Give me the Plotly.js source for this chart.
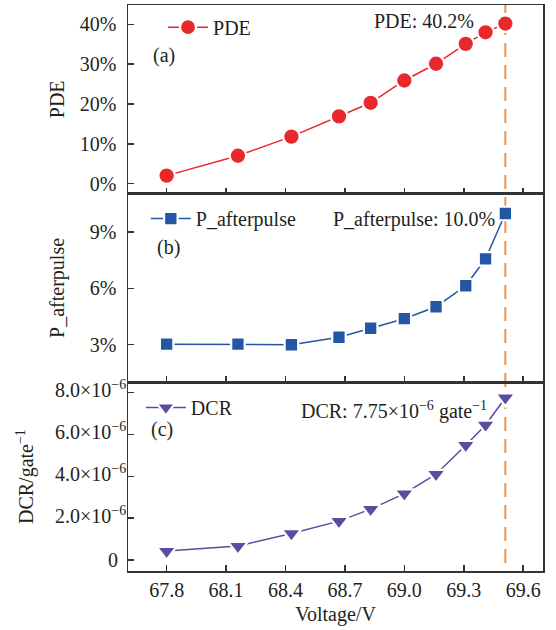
<!DOCTYPE html>
<html>
<head>
<meta charset="utf-8">
<script src="https://cdn.plot.ly/plotly-3.0.1.min.js"></script>
<style>
  html, body { margin: 0; padding: 0; background: #fff; }
  #chart { width: 556px; height: 630px; }
</style>
</head>
<body>
<div id="chart"></div>
<script>
// Data
const voltage = [67.8, 68.16, 68.43, 68.67, 68.83, 69.0, 69.16, 69.31, 69.41, 69.51];
const pde = [2.0, 7.0, 11.8, 16.9, 20.3, 25.9, 30.1, 35.1, 38.0, 40.2];            // %
const afterpulse = [3.02, 3.02, 2.99, 3.39, 3.87, 4.38, 5.02, 6.14, 7.58, 10.0];   // %
const dcrE6 = [0.43, 0.67, 1.27, 1.86, 2.43, 3.17, 4.1, 5.48, 6.45, 7.75];          // ×10^-6 gate^-1
const markVoltage = 69.51;

const xTickVals = [67.8, 68.1, 68.4, 68.7, 69.0, 69.3, 69.6];
const xTickText = ['67.8', '68.1', '68.4', '68.7', '69.0', '69.3', '69.6'];
const pdeTicks = [0, 10, 20, 30, 40];
const pdeTickText = ['0%', '10%', '20%', '30%', '40%'];
const apTicks = [3, 6, 9];
const apTickText = ['3%', '6%', '9%'];
const dcrTicks = [0, 2, 4, 6, 8];
const dcrTickText = ['0', '2.0×10<sup>−6</sup>', '4.0×10<sup>−6</sup>', '6.0×10<sup>−6</sup>', '8.0×10<sup>−6</sup>'];

const FONT = 'Liberation Serif, Times New Roman, serif';
const TXT = '#231f20';
const AX = '#333333';
const RED = '#E8282B', BLUE = '#2456A6', PURPLE = '#5A4D9F', ORANGE = '#F39048';

function trace(y, xa, ya, name, color, symbol, size, legend) {
  return {
    x: voltage, y: y, xaxis: xa, yaxis: ya, name: name, legend: legend,
    type: 'scatter', mode: 'lines+markers',
    line: { color: color, width: 1.5 },
    marker: { color: color, symbol: symbol, size: size, line: { color: '#ffffff', width: 2.2 } }
  };
}

const data = [
  trace(pde, 'x', 'y', 'PDE', RED, 'circle', 16.5, 'legend'),
  trace(afterpulse, 'x2', 'y2', 'P_afterpulse', BLUE, 'square', 13.5, 'legend2'),
  trace(dcrE6, 'x3', 'y3', 'DCR', PURPLE, 'triangle-down', 17, 'legend3')
];

const xBase = {
  range: [67.605, 69.70], tickmode: 'array', tickvals: xTickVals, ticktext: xTickText,
  ticks: 'inside', ticklen: 6, tickwidth: 1.5, tickcolor: AX,
  showline: true, linewidth: 1.5, linecolor: AX, mirror: true,
  showgrid: false, zeroline: false
};
const yBase = {
  tickmode: 'array',
  ticks: 'inside', ticklen: 6, tickwidth: 1.5, tickcolor: AX,
  showline: true, linewidth: 1.5, linecolor: AX, mirror: true,
  showgrid: false, zeroline: false
};

const legBase = {
  xref: 'paper', yref: 'paper', xanchor: 'left', yanchor: 'middle',
  bgcolor: 'rgba(0,0,0,0)', borderwidth: 0, itemwidth: 40,
  font: { family: FONT, size: 20, color: TXT }
};

const titleFont = { family: FONT, size: 20, color: TXT };

// DCR tick labels (with superscripts) placed as right-aligned labels at the y3 tick values
const dcrLabelAnnotations = dcrTicks.map((v, i) => {
  const hasSup = dcrTickText[i].indexOf('<sup>') >= 0;
  return {
    text: dcrTickText[i], xref: 'paper', yref: 'y3', x: (hasSup ? 0 : -8) / 415.5, y: v,
    xanchor: 'right', yanchor: 'middle', showarrow: false,
    yshift: hasSup ? 3 : 0,
    font: titleFont
  };
});

const layout = {
  width: 556, height: 630,
  margin: { l: 128, r: 12.5, t: 4.5, b: 59 },
  paper_bgcolor: '#ffffff', plot_bgcolor: '#ffffff',
  font: { family: FONT, size: 20, color: TXT },
  showlegend: true,
  xaxis: Object.assign({}, xBase, { anchor: 'y', showticklabels: false }),
  xaxis2: Object.assign({}, xBase, { anchor: 'y2', showticklabels: false, matches: 'x' }),
  xaxis3: Object.assign({}, xBase, { anchor: 'y3', matches: 'x', title: { text: 'Voltage/V', font: titleFont, standoff: 7 } }),
  yaxis: Object.assign({}, yBase, { domain: [0.6667, 1], range: [-2.52, 44.86], tickvals: pdeTicks, ticktext: pdeTickText,
    ticklabelstandoff: 6, title: { text: 'PDE', font: titleFont, standoff: 10 } }),
  yaxis2: Object.assign({}, yBase, { domain: [0.3336, 0.6667], range: [0.99, 11.06], tickvals: apTicks, ticktext: apTickText,
    ticklabelstandoff: 6, title: { text: 'P_afterpulse', font: titleFont, standoff: 20 } }),
  yaxis3: Object.assign({}, yBase, { domain: [0, 0.3336], range: [-0.52, 8.49], tickvals: dcrTicks, showticklabels: false,
    title: { text: 'DCR/gate<sup>−1</sup>', font: titleFont, standoff: 87 } }),
  legend: Object.assign({}, legBase, { x: 0.0844, y: 0.9608 }),
  legend2: Object.assign({}, legBase, { x: 0.043, y: 0.6226 }),
  legend3: Object.assign({}, legBase, { x: 0.031, y: 0.289 }),
  shapes: [{
    type: 'line', xref: 'x', yref: 'paper', x0: markVoltage, x1: markVoltage, y0: 0.014, y1: 1,
    line: { color: ORANGE, width: 2, dash: '14px,8px' }, layer: 'below'
  }],
  annotations: [
    { text: '(a)', xref: 'paper', yref: 'paper', x: 0.0866, y: 0.9109, showarrow: false, xanchor: 'center', yanchor: 'middle', font: titleFont },
    { text: '(b)', xref: 'paper', yref: 'paper', x: 0.0987, y: 0.571, showarrow: false, xanchor: 'center', yanchor: 'middle', font: titleFont },
    { text: '(c)', xref: 'paper', yref: 'paper', x: 0.0826, y: 0.2507, showarrow: false, xanchor: 'center', yanchor: 'middle', font: titleFont },
    { text: 'PDE: 40.2%', xref: 'paper', yref: 'paper', x: 0.8375, y: 0.9714, showarrow: false, xanchor: 'right', yanchor: 'middle', font: titleFont },
    { text: 'P_afterpulse: 10.0%', xref: 'paper', yref: 'paper', x: 0.888, y: 0.6214, showarrow: false, xanchor: 'right', yanchor: 'middle', font: titleFont },
    { text: 'DCR: 7.75×10<sup>−6</sup> gate<sup>−1</sup>', xref: 'paper', yref: 'paper', x: 0.8706, y: 0.2842, showarrow: false, xanchor: 'right', yanchor: 'middle', font: titleFont }
  ].concat(dcrLabelAnnotations)
};

Plotly.newPlot('chart', data, layout, { displayModeBar: false, staticPlot: true });
</script>
</body>
</html>
